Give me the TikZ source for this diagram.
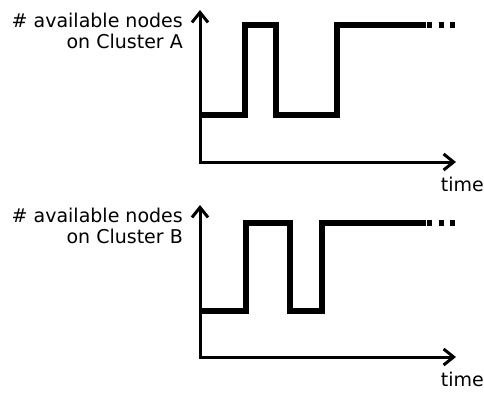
\documentclass[tikz,border=0pt]{standalone}
\usepackage{fontspec}
\setmainfont{DejaVu Sans}
\usetikzlibrary{arrows.meta}
\begin{document}
\begin{tikzpicture}[x=1pt,y=-1pt,
  axis/.style={line width=3pt,
    arrows={Straight Barb[length=10pt,width=16pt,line width=3pt]-Straight Barb[length=10pt,width=16pt,line width=3pt]}},
  trace/.style={line width=6pt,line join=miter,line cap=butt},
  more/.style={line width=6pt,line cap=butt,dash pattern=on 5pt off 6.5pt},
  lbl/.style={inner sep=0pt,font=\fontsize{19}{21}\selectfont}]
\useasboundingbox (0,0) rectangle (484,392);

% Cluster A
\coordinate (aTop) at (200,10);
\coordinate (aOrig) at (200,162);
\coordinate (aEnd) at (456,162);
\draw[axis] (aTop) |- (aEnd);
\draw[trace] (200,115) -- (245,115) -- (245,25) -- (276,25) -- (276,115)
  -- (337,115) -- (337,25) -- (426,25);
\draw[more] (427,25) -- (456,25);
\node[lbl,anchor=base east] (aL1) at (183,27) {\# available nodes};
\node[lbl,anchor=base east] (aL2) at (183,48) {on Cluster A};
\node[lbl,anchor=base east] (aT) at (484,191) {time};

% Cluster B
\coordinate (bTop) at (200,205);
\coordinate (bOrig) at (200,357);
\coordinate (bEnd) at (456,357);
\draw[axis] (bTop) |- (bEnd);
\draw[trace] (200,311) -- (246,311) -- (246,223) -- (290,223) -- (290,311)
  -- (322,311) -- (322,223) -- (426,223);
\draw[more] (427,223) -- (456,223);
\node[lbl,anchor=base east] (bL1) at (183,222) {\# available nodes};
\node[lbl,anchor=base east] (bL2) at (183,243) {on Cluster B};
\node[lbl,anchor=base east] (bT) at (484,386) {time};
\end{tikzpicture}
\end{document}
